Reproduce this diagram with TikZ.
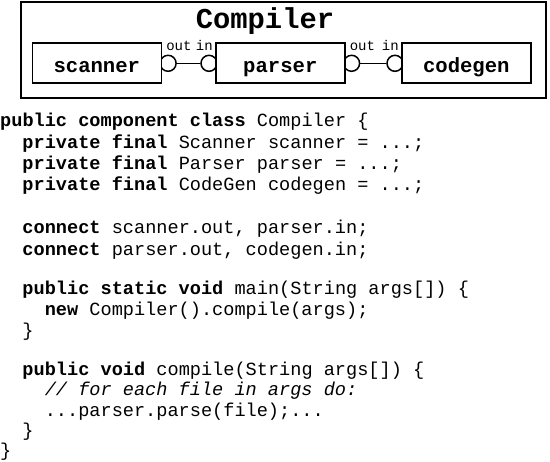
\documentclass[tikz,border=0pt]{standalone}
\usepackage{fontspec}
\setmonofont{Liberation Mono}
\pgfdeclarelayer{bg}
\pgfsetlayers{bg,main}
\begin{document}
\begin{tikzpicture}[x=1pt,y=-1pt,
  code/.style={anchor=base west, inner sep=0pt, font=\ttfamily\fontsize{18.6}{20.6}\selectfont},
  box/.style={draw, line width=1.6pt, fill=white, minimum width=129pt, minimum height=40pt,
    inner sep=0pt, anchor=north west, font=\ttfamily\bfseries\fontsize{20.6}{22}\selectfont,
    text height=19pt, text depth=0pt},
  port/.style={draw, circle, line width=1.5pt, minimum size=16pt, inner sep=0pt},
  portlabel/.style={inner sep=0pt, font=\ttfamily\fontsize{14}{14}\selectfont},
  wire/.style={line width=1.5pt}]
\useasboundingbox (0,0) rectangle (550,462);

% outer component
\node[draw, line width=2pt, anchor=north west, minimum width=524.5pt, minimum height=96pt, inner sep=0pt] (outer) at (20,1) {};
\node[anchor=base, inner sep=0pt, font=\ttfamily\bfseries\fontsize{28.8}{30}\selectfont] (title) at (265,29) {Compiler};

% sub components
\node[box] (scanner) at (31.5,42.5) {scanner};
\node[box] (parser) at (215,42.5) {parser};
\node[box] (codegen) at (401,42.5) {codegen};

% ports and wires
\begin{pgfonlayer}{bg}
  \node[port] (so) at ([xshift=6pt]scanner.east) {};
  \node[port] (pi) at ([xshift=-6pt]parser.west) {};
  \node[port] (po) at ([xshift=6pt]parser.east) {};
  \node[port] (ci) at ([xshift=-6pt]codegen.west) {};
  \draw[wire] (so) -- (pi);
  \draw[wire] (po) -- (ci);
\end{pgfonlayer}

\node[portlabel, anchor=base west] (lso) at ([xshift=4pt,yshift=-8.5pt]scanner.north east) {out};
\node[portlabel, anchor=base east] (lpi) at ([xshift=-2pt,yshift=-8.5pt]parser.north west) {in};
\node[portlabel, anchor=base west] (lpo) at ([xshift=4pt,yshift=-8.5pt]parser.north east) {out};
\node[portlabel, anchor=base east] (lci) at ([xshift=-2pt,yshift=-8.5pt]codegen.north west) {in};

% code
\node[code] (l0) at (0,127) {\textbf{public component class} Compiler \{};
\node[code] (l1) at (22.3,148.2) {\textbf{private final} Scanner scanner = ...;};
\node[code] (l2) at (22.3,169.4) {\textbf{private final} Parser parser = ...;};
\node[code] (l3) at (22.3,190.6) {\textbf{private final} CodeGen codegen = ...;};
\node[code] (l5) at (22.3,234) {\textbf{connect} scanner.out, parser.in;};
\node[code] (l6) at (22.3,255.5) {\textbf{connect} parser.out, codegen.in;};
\node[code] (l8) at (22.3,294.5) {\textbf{public static void} main(String args[]) \{};
\node[code] (l9) at (44.6,315.5) {\textbf{new} Compiler().compile(args);};
\node[code] (l10) at (22.3,337) {\}};
\node[code] (l12) at (22.3,375.5) {\textbf{public void} compile(String args[]) \{};
\node[code] (l13) at (44.6,396) {\textit{// for each file in args do:}};
\node[code] (l14) at (44.6,416.5) {...parser.parse(file);...};
\node[code] (l15) at (22.3,437) {\}};
\node[code] (l16) at (0,457) {\}};
\end{tikzpicture}
\end{document}
